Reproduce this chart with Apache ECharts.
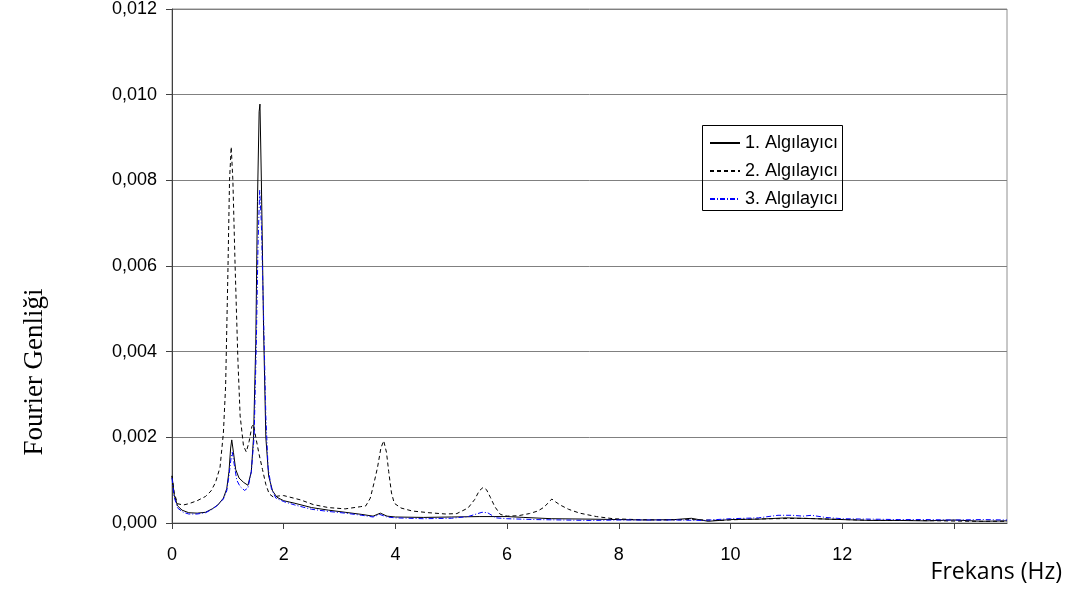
<!DOCTYPE html>
<html><head><meta charset="utf-8">
<script src="https://cdn.jsdelivr.net/npm/echarts@6/dist/echarts.min.js"></script>
<style>html,body{margin:0;padding:0;background:#fff}#c{width:1077px;height:592px}</style>
</head><body><div id="c"></div>
<script>
const seriesNames = ['1. Algılayıcı', '2. Algılayıcı', '3. Algılayıcı'];
const xTickLabels = ['0', '2', '4', '6', '8', '10', '12'];
const yTicks = [0, 0.002, 0.004, 0.006, 0.008, 0.010, 0.012];

const freq1 = [0,0.04,0.1,0.18,0.3,0.45,0.6,0.72,0.82,0.92,0.98,1.02,1.05,1.07,1.1,1.14,1.2,1.28,1.36,1.42,1.46,1.5,1.53,1.56,1.575,1.6,1.64,1.68,1.73,1.8,1.88,2.0,2.2,2.5,2.8,3.1,3.4,3.6,3.73,3.85,4.0,4.5,5.0,5.5,6.0,6.3,6.8,7.5,8.0,8.5,9.0,9.3,9.6,10.0,10.5,11.0,11.5,12.0,12.5,13.0,13.5,14.0,14.5,14.95];
const amp1 = [0.0011,0.00065,0.0004,0.0003,0.00024,0.00023,0.00025,0.00033,0.00042,0.00058,0.0008,0.0012,0.00175,0.00194,0.00165,0.00125,0.00105,0.00095,0.00088,0.0012,0.002,0.0042,0.0075,0.0096,0.00978,0.008,0.0045,0.002,0.0011,0.00075,0.0006,0.00052,0.00046,0.00036,0.0003,0.00025,0.0002,0.00016,0.00023,0.00016,0.00014,0.00013,0.00014,0.00015,0.00015,0.00013,0.0001,0.00009,0.00008,0.00007,0.00008,0.00011,0.00004,0.00008,0.00009,0.00012,0.0001,0.00008,0.00006,0.00006,0.00005,0.00007,0.00004,0.00005];

const freq2 = [0,0.04,0.1,0.2,0.3,0.45,0.6,0.7,0.78,0.86,0.92,0.96,1.0,1.03,1.06,1.09,1.13,1.18,1.22,1.28,1.33,1.38,1.43,1.46,1.5,1.56,1.62,1.68,1.74,1.82,1.9,2.0,2.3,2.53,2.8,3.1,3.37,3.47,3.55,3.62,3.68,3.74,3.79,3.84,3.88,3.93,3.98,4.1,4.3,4.6,4.9,5.1,5.3,5.42,5.5,5.57,5.63,5.7,5.78,5.88,6.0,6.2,6.4,6.55,6.65,6.73,6.8,6.86,6.95,7.1,7.3,7.6,7.9,8.3,8.8,9.3,9.8,10.3,10.8,11.3,11.8,12.3,12.8,13.3,13.8,14.3,14.95];
const amp2 = [0.0011,0.0007,0.00045,0.00042,0.00045,0.00052,0.00062,0.00075,0.00095,0.0013,0.0021,0.0032,0.0058,0.008,0.00878,0.008,0.006,0.0038,0.0025,0.0018,0.00166,0.0019,0.00225,0.0023,0.002,0.0016,0.00125,0.0009,0.00068,0.0006,0.00063,0.00064,0.00054,0.00043,0.00036,0.00033,0.00038,0.0004,0.00058,0.00095,0.0013,0.00175,0.00192,0.00165,0.0012,0.0007,0.00046,0.00035,0.00028,0.00024,0.00021,0.00022,0.00035,0.00055,0.00075,0.00083,0.00078,0.0006,0.00038,0.0002,0.00016,0.00017,0.00022,0.00028,0.00036,0.00046,0.00056,0.0005,0.00042,0.00032,0.00023,0.00015,0.0001,0.00008,0.00007,0.00008,0.00006,0.00009,0.0001,0.00011,0.00009,0.00007,0.00006,0.00006,0.00005,0.00004,0.00004];

const freq3 = [0,0.04,0.1,0.2,0.3,0.45,0.6,0.72,0.82,0.92,0.98,1.02,1.06,1.08,1.11,1.16,1.22,1.3,1.36,1.42,1.47,1.51,1.54,1.57,1.6,1.64,1.68,1.72,1.78,1.86,2.0,2.2,2.5,2.8,3.1,3.4,3.6,3.72,3.85,4.0,4.5,5.0,5.3,5.55,5.65,5.8,6.0,6.5,7.0,7.5,8.0,8.5,9.0,9.5,10.0,10.5,10.85,11.1,11.3,11.45,11.7,12.0,12.5,13.0,13.5,14.0,14.5,14.95];
const amp3 = [0.00105,0.0006,0.00035,0.00025,0.00021,0.00021,0.00024,0.00032,0.00042,0.00056,0.00075,0.0011,0.00155,0.00165,0.0014,0.001,0.00085,0.00076,0.00082,0.0012,0.002,0.0042,0.0065,0.00777,0.007,0.0048,0.0025,0.0013,0.0008,0.00058,0.0005,0.00042,0.00032,0.00027,0.00023,0.00018,0.00014,0.0002,0.00014,0.00012,0.0001,0.00011,0.00015,0.00025,0.00024,0.00012,0.0001,0.00008,0.00007,0.00006,0.00007,0.00007,0.00007,0.00006,0.0001,0.00012,0.00018,0.00018,0.00016,0.00018,0.00013,0.0001,0.00009,0.00008,0.00008,0.00007,0.00008,0.00007];

const pairs = (f, a) => f.map((v, i) => [v, a[i]]);

const chart = echarts.init(document.getElementById('c'), null, {renderer: 'canvas'});
chart.setOption({
  animation: false,
  backgroundColor: '#fff',
  grid: {left: 172, right: 70, top: 9, bottom: 69, show: true, borderColor: '#909090', borderWidth: 1, backgroundColor: 'transparent'},
  xAxis: {
    type: 'value', min: 0, max: 14.95, interval: 2,
    axisLine: {lineStyle: {color: '#404040', width: 1}},
    axisTick: {show: true, length: 6, lineStyle: {color: '#404040'}},
    splitLine: {show: false},
    axisLabel: {
      margin: 23, color: '#000', fontSize: 18, fontFamily: '"Liberation Sans", Arial, sans-serif',
      showMaxLabel: false,
      formatter: v => { const s = String(v); return xTickLabels.indexOf(s) >= 0 ? s : ''; }
    }
  },
  yAxis: {
    type: 'value', min: yTicks[0], max: yTicks[yTicks.length - 1], interval: 0.002,
    axisLine: {show: true, lineStyle: {color: '#404040', width: 1}},
    axisTick: {show: true, length: 6, lineStyle: {color: '#404040'}},
    splitLine: {show: true, lineStyle: {color: '#808080', width: 1}},
    axisLabel: {
      margin: 15, color: '#000', fontSize: 18, fontFamily: '"Liberation Sans", Arial, sans-serif',
      formatter: v => v.toFixed(3).replace('.', ',')
    }
  },
  legend: {
    data: seriesNames, orient: 'vertical', left: 709, top: 134, padding: 0,
    itemWidth: 30, itemHeight: 18, itemGap: 10,
    itemStyle: {opacity: 0},
    textStyle: {color: '#000', fontSize: 18, fontFamily: '"Liberation Sans", Arial, sans-serif'}
  },
  graphic: [
    {type: 'rect', shape: {x: 702.5, y: 125.5, width: 140, height: 85}, style: {fill: 'none', stroke: '#000', lineWidth: 1}, z: 10},
    {type: 'text', x: 35, y: 372, rotation: Math.PI / 2,
     style: {text: 'Fourier Genliği', font: '27px "Liberation Serif", "Times New Roman", serif', fill: '#000', textAlign: 'center', textVerticalAlign: 'middle'}},
    {type: 'text', x: 1062, y: 572,
     style: {text: 'Frekans (Hz)', font: '23px "Open Sans", sans-serif', fill: '#000', textAlign: 'right', textVerticalAlign: 'middle'}}
  ],
  series: [
    {name: seriesNames[0], type: 'line', symbol: 'none', data: pairs(freq1, amp1),
     lineStyle: {color: '#000', width: 1, type: 'solid'}, itemStyle: {color: '#000'}},
    {name: seriesNames[1], type: 'line', symbol: 'none', data: pairs(freq2, amp2),
     lineStyle: {color: '#000', width: 1, type: [4, 3]}, itemStyle: {color: '#000'}},
    {name: seriesNames[2], type: 'line', symbol: 'none', data: pairs(freq3, amp3),
     lineStyle: {color: '#0000ff', width: 1, type: [5, 2, 1, 2]}, itemStyle: {color: '#0000ff'}}
  ]
});
</script></body></html>
